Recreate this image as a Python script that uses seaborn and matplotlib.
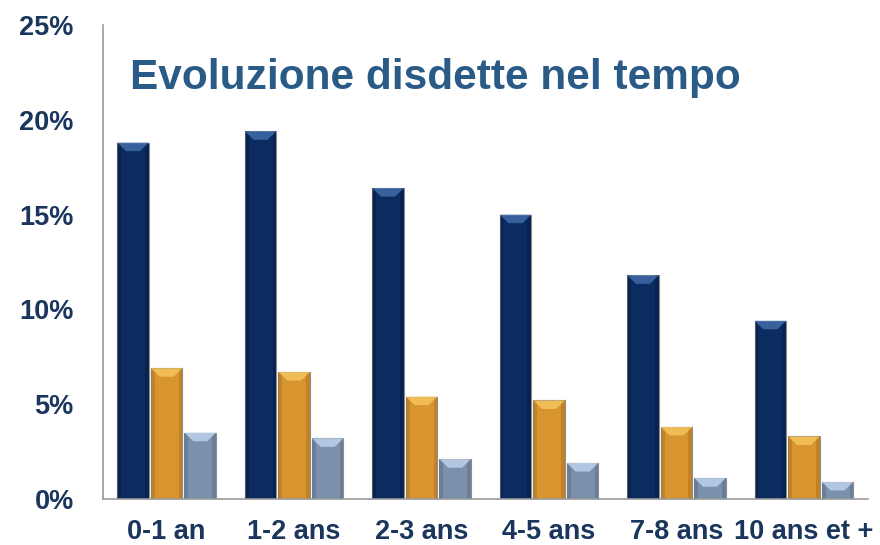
import matplotlib
matplotlib.use("Agg")
import matplotlib.pyplot as plt
from matplotlib.patches import Polygon, Rectangle
import seaborn as sns
import pandas as pd

# Cancellation rates (%) by contract seniority, three series
categories = ["0-1 an", "1-2 ans", "2-3 ans", "4-5 ans", "7-8 ans", "10 ans et +"]
serie_1 = [18.8, 19.4, 16.4, 15.0, 11.8, 9.4]
serie_2 = [6.9, 6.7, 5.4, 5.2, 3.8, 3.3]
serie_3 = [3.5, 3.2, 2.1, 1.9, 1.1, 0.9]
series_names = ["Serie 1", "Serie 2", "Serie 3"]
y_ticks = [0, 5, 10, 15, 20, 25]

colors = ["#0c2c60", "#d8952f", "#7b91ab"]
top_colors = ["#3f6aa8", "#f5c35c", "#bcd3ec"]
side_colors = ["#061a3d", "#a86c1c", "#56697f"]

df = pd.DataFrame({
    "categoria": categories * 3,
    "valore": serie_1 + serie_2 + serie_3,
    "serie": [series_names[0]] * 6 + [series_names[1]] * 6 + [series_names[2]] * 6,
})

sns.set_theme(style="white")
plt.rcParams["font.family"] = ["Liberation Sans", "DejaVu Sans"]

fig = plt.figure(figsize=(8.8, 5.45), dpi=100)
ax = fig.add_axes([0.117, 0.0844, 0.869, 0.8696])

sns.barplot(data=df, x="categoria", y="valore", hue="serie",
            palette=colors, saturation=1, width=0.79, gap=0.06, ax=ax,
            legend=False, edgecolor="#8c8c8c", linewidth=0.8)

# Bevel shading derived from each drawn bar
for i, container in enumerate(ax.containers):
    for bar in container:
        x, w, h = bar.get_x(), bar.get_width(), bar.get_height()
        side = w * 0.12
        ax.add_patch(Rectangle((x, 0), side, h, facecolor=side_colors[i],
                               alpha=0.45, linewidth=0, zorder=bar.get_zorder() + 0.1))
        ax.add_patch(Rectangle((x + w - side, 0), side, h, facecolor=side_colors[i],
                               alpha=0.45, linewidth=0, zorder=bar.get_zorder() + 0.1))
        depth = 0.45
        ax.add_patch(Polygon([(x, h), (x + w, h), (x + w * 0.72, h - depth),
                              (x + w * 0.28, h - depth)], closed=True,
                             facecolor=top_colors[i], alpha=0.85, linewidth=0,
                             zorder=bar.get_zorder() + 0.2))

ax.set_ylim(0, 25)
ax.set_xlim(-0.5, len(categories) - 0.5)
ax.set_yticks(y_ticks)
ax.set_yticklabels([f"{v}%" for v in y_ticks])
ax.set_xlabel("")
ax.set_ylabel("")

tick_color = "#1b365d"
ax.tick_params(axis="y", length=0, pad=21, labelsize=19.5, labelcolor=tick_color)
ax.tick_params(axis="x", length=0, pad=14.5, labelsize=19.5, labelcolor=tick_color)
for lbl in ax.get_xticklabels() + ax.get_yticklabels():
    lbl.set_fontweight("bold")

for s in ["top", "right"]:
    ax.spines[s].set_visible(False)
ax.spines["left"].set_color("#9a9a9a")
ax.spines["bottom"].set_color("#9a9a9a")
ax.spines["left"].set_linewidth(1.2)
ax.spines["bottom"].set_linewidth(1.2)

fig.text(0.148, 0.857, "Evoluzione disdette nel tempo", color="#2a5b86",
         fontsize=30.5, fontweight="bold", ha="left", va="center")

fig.savefig("out.png", dpi=100)
